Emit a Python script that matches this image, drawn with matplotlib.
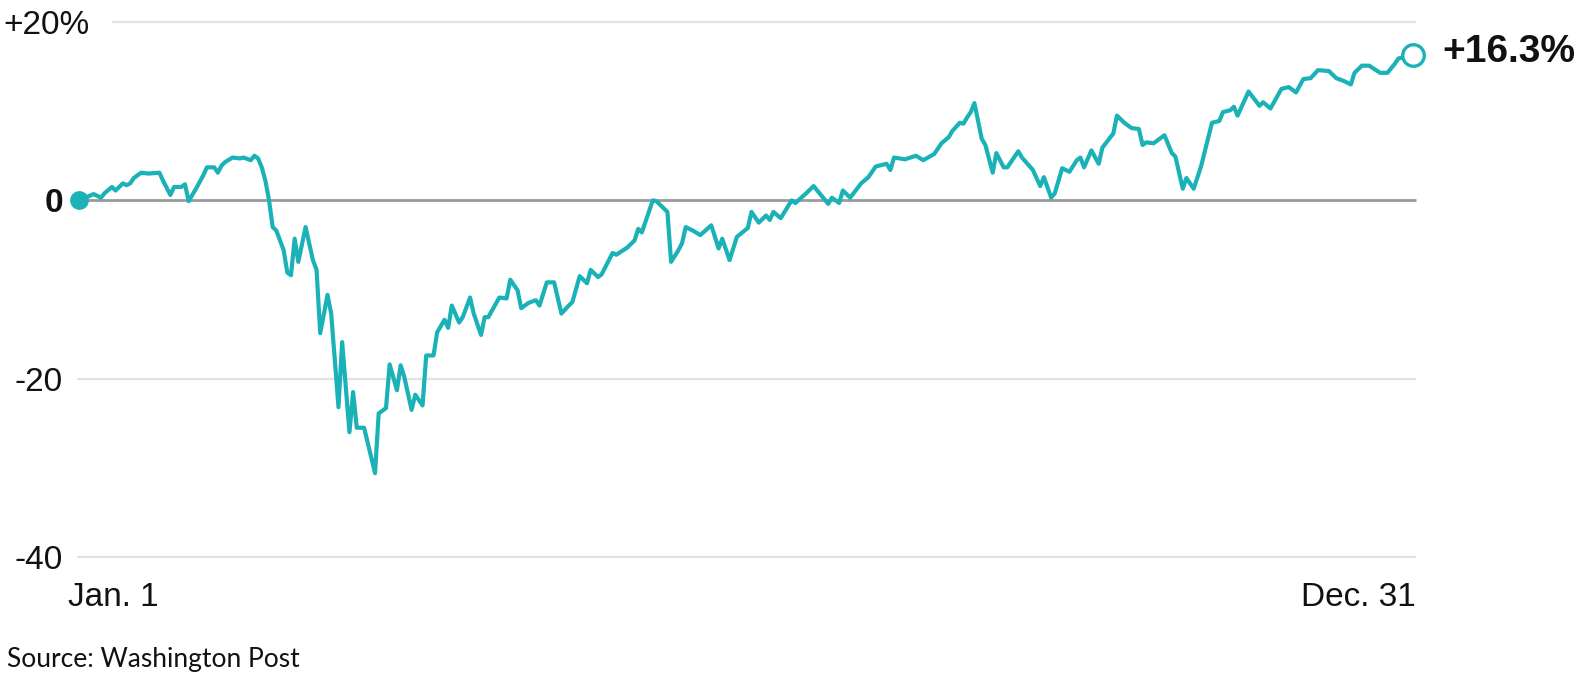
import matplotlib
matplotlib.use("Agg")
import matplotlib.pyplot as plt
from matplotlib.transforms import blended_transform_factory

# ---- data (day of year 2020, % change since Jan. 1) ----
days = [0, 4, 6, 7, 9, 10, 12, 13, 14, 15, 17, 19, 22, 23, 25, 26, 28, 29, 30, 32,
        34, 35, 37, 38, 39, 40, 42, 44, 45, 47, 48, 49, 50, 51, 52, 53, 54, 56, 57, 58,
        59, 60, 62, 64, 65, 66, 68, 69, 71, 72, 74, 75, 76, 78, 81, 82, 84, 85, 87, 88,
        89, 91, 92, 94, 95, 97, 98, 100, 101, 102, 104, 105, 107, 108, 110, 111, 112, 115, 117, 118,
        120, 121, 123, 125, 126, 128, 130, 132, 134, 135, 137, 139, 140, 142, 143, 146, 147, 150, 152, 153,
        154, 157, 158, 160, 161, 162, 164, 165, 166, 168, 170, 173, 175, 176, 178, 180, 183, 184, 186, 188,
        189, 190, 192, 195, 196, 199, 201, 203, 205, 206, 208, 209, 211, 214, 216, 218, 221, 222, 223, 226,
        229, 231, 234, 236, 238, 239, 241, 242, 243, 244, 245, 247, 248, 250, 251, 253, 254, 257, 258, 261,
        263, 264, 266, 267, 269, 271, 273, 274, 275, 277, 279, 280, 283, 284, 286, 288, 290, 291, 292, 294,
        297, 299, 300, 302, 303, 305, 307, 310, 312, 313, 315, 316, 317, 320, 323, 324, 326, 329, 331, 333,
        335, 337, 339, 342, 344, 346, 348, 349, 351, 353, 356, 358, 360, 361, 365]
pct = [0.0, 0.7, 0.3, 0.8, 1.5, 1.1, 1.9, 1.7, 1.9, 2.5, 3.1, 3.0, 3.1, 2.2, 0.6, 1.5, 1.5, 1.8, -0.1, 1.3,
       2.8, 3.7, 3.7, 3.1, 3.9, 4.3, 4.8, 4.7, 4.8, 4.5, 5.0, 4.7, 3.7, 2.2, 0.0, -3.0, -3.4, -5.6, -8.1, -8.4,
       -4.3, -6.9, -3.0, -6.7, -7.8, -14.9, -10.6, -12.7, -23.2, -15.9, -26.0, -21.5, -25.5, -25.5, -30.6, -23.9, -23.3, -18.4, -21.3, -18.5,
       -19.8, -23.5, -21.8, -23.0, -17.4, -17.4, -14.8, -13.4, -14.3, -11.8, -13.7, -13.1, -10.9, -12.7, -15.1, -13.1, -13.1, -10.9, -11.0, -8.9,
       -10.1, -12.1, -11.5, -11.2, -11.8, -9.2, -9.2, -12.7, -11.8, -11.4, -8.5, -9.3, -7.8, -8.6, -8.3, -5.9, -6.1, -5.3, -4.5, -3.2,
       -3.6, 0.0, -0.1, -0.9, -1.3, -6.9, -5.6, -4.8, -3.0, -3.4, -3.9, -2.8, -5.4, -4.3, -6.7, -4.1, -3.1, -1.3, -2.5, -1.7,
       -2.2, -1.3, -2.0, 0.0, -0.3, 0.8, 1.6, 0.6, -0.4, 0.3, -0.3, 1.1, 0.3, 1.9, 2.6, 3.8, 4.1, 3.4, 4.8, 4.6,
       5.0, 4.5, 5.2, 6.4, 7.1, 7.8, 8.7, 8.6, 9.3, 9.9, 10.9, 6.9, 6.2, 3.1, 5.3, 3.7, 3.7, 5.5, 4.8, 3.4,
       1.6, 2.6, 0.3, 0.8, 3.6, 3.2, 4.5, 4.8, 3.7, 5.6, 4.1, 5.9, 7.5, 9.5, 8.7, 8.1, 8.0, 6.2, 6.5, 6.4,
       7.3, 5.3, 4.9, 1.3, 2.5, 1.3, 3.8, 8.7, 8.9, 9.9, 10.1, 10.5, 9.5, 12.2, 10.6, 11.0, 10.3, 12.5, 12.7, 12.1,
       13.6, 13.7, 14.6, 14.5, 13.7, 13.4, 13.0, 14.3, 15.1, 15.1, 14.3, 14.3, 15.3, 15.9, 16.3]
y_ticks = [20, 0, -20, -40]
y_tick_labels = ["+20%", "0", "-20", "-40"]
x_labels = ["Jan. 1", "Dec. 31"]
end_label = "+16.3%"
source_text = "Source: Washington Post"

# ---- style ----
LINE = "#1ab2b7"
TEXT = "#111111"
GRID = "#e2e2e2"
ZERO = "#9a9a9a"
FONT = ["Liberation Sans", "DejaVu Sans"]

W, H = 1585, 677
fig = plt.figure(figsize=(W / 100, H / 100), dpi=100)
ax = fig.add_axes([79 / W, (H - 557) / H, 1334 / W, 535 / H])
ax.set_xlim(0, 365)
ax.set_ylim(-40, 20)
ax.axis("off")

x_end = 365.8
for t in y_ticks:
    if t == 0:
        ax.hlines(t, 0, x_end, color=ZERO, lw=2.0, zorder=1, clip_on=False)
    elif t == 20:
        ax.hlines(t, 9.0, x_end, color=GRID, lw=1.6, zorder=1, clip_on=False)
    else:
        ax.hlines(t, -0.55, x_end, color=GRID, lw=1.6, zorder=1, clip_on=False)

ax.plot(days, pct, color=LINE, lw=3.0, solid_joinstyle="round", zorder=3, clip_on=False)
ax.plot([days[0]], [pct[0]], "o", ms=12.5, color=LINE, zorder=4, clip_on=False)
ax.plot([days[-1]], [pct[-1]], "o", ms=15.5, mfc="white", mec=LINE, mew=2.4,
        zorder=4, clip_on=False)

trans = blended_transform_factory(fig.transFigure, ax.transData)
for t, lab in zip(y_ticks, y_tick_labels):
    if t == 20:
        ax.text(3 / W, t, lab, transform=trans, ha="left", va="center_baseline",
                fontsize=24, color=TEXT, family=FONT)
    else:
        ax.text(63 / W, t, lab, transform=trans, ha="right", va="center_baseline",
                fontsize=24, color=TEXT, family=FONT,
                fontweight="bold" if t == 0 else "normal")

fig.text(68 / W, (H - 594) / H, x_labels[0], ha="left", va="center_baseline",
         fontsize=24, color=TEXT, family=FONT)
fig.text(1416 / W, (H - 594) / H, x_labels[1], ha="right", va="center_baseline",
         fontsize=24, color=TEXT, family=FONT)

fig.text(1442 / W, (H - 48) / H, end_label, ha="left", va="center_baseline",
         fontsize=28, fontweight="bold", color=TEXT, family=FONT)

fig.text(7 / W, (H - 667) / H, source_text, ha="left", va="baseline",
         fontsize=19, color=TEXT, family=["Lato", "DejaVu Sans"])

fig.savefig("out.png", dpi=100, facecolor="white")
